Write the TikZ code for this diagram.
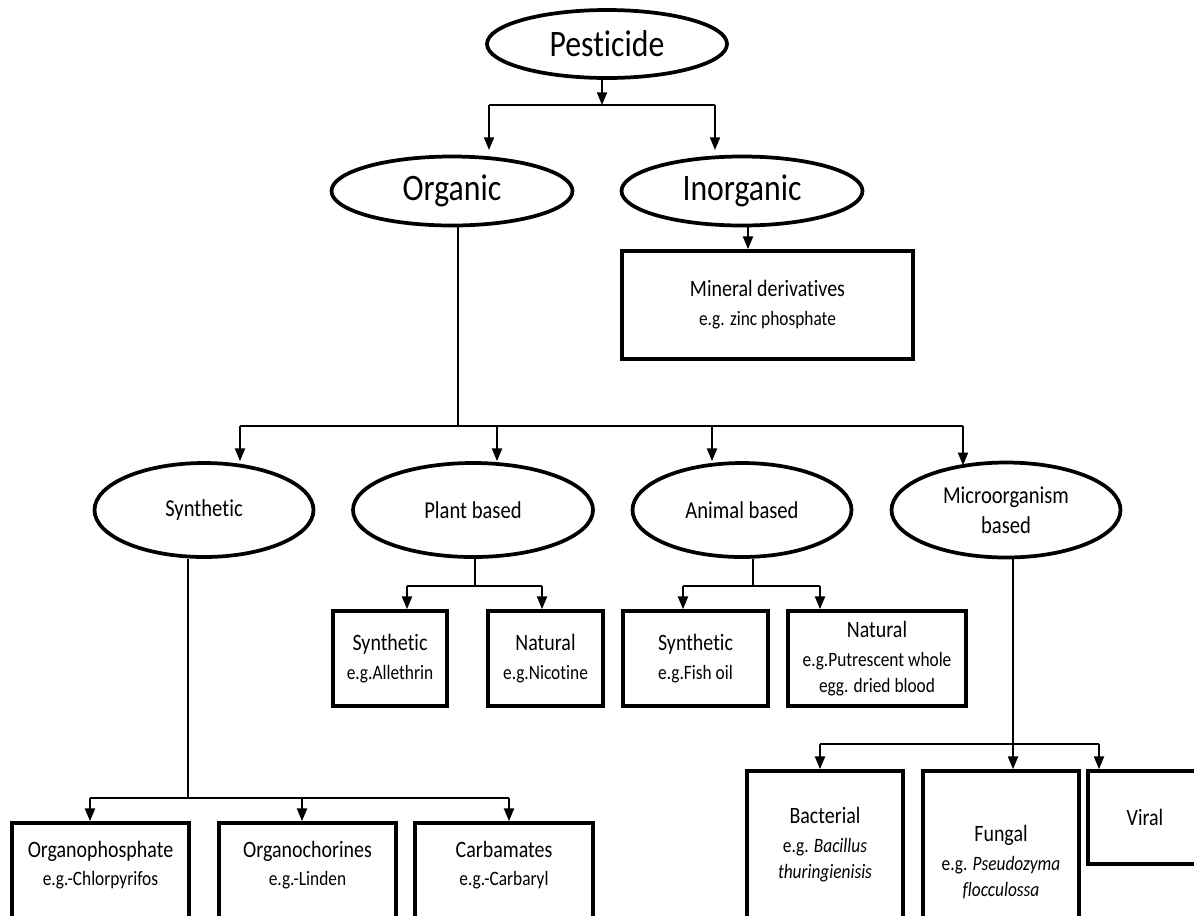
\documentclass[tikz,border=0pt]{standalone}
\usepackage{fontspec}
\setmainfont[FakeStretch=0.85,Ligatures=NoCommon]{Carlito}
\usetikzlibrary{shapes.geometric,arrows.meta,positioning,calc}

\newcommand{\ttl}[1]{{\fontsize{17.6}{20}\selectfont #1}}

\tikzset{
	oval/.style={draw, ellipse, line width=2.8pt, inner sep=0pt, align=center},
	bigoval/.style={oval, font=\fontsize{28}{31}\selectfont},
	suboval/.style={oval, font=\fontsize{18.2}{22.5}\selectfont},
	sbox/.style={draw, rectangle, line width=2.8pt, inner sep=0pt, align=center, font=\fontsize{15.3}{19.5}\selectfont},
	sz/.style 2 args={minimum width=#1*0.75pt, minimum height=#2*0.75pt},
	eg/.style={align=center, font=\fontsize{15.3}{19.5}\selectfont},
	link/.style={line width=1.4pt},
	arr/.style={link, -{Triangle[width=7.5pt,length=9.5pt]}},
}

\begin{document}
\begin{tikzpicture}[x=0.75pt, y=-0.75pt]
			%\draw[help lines] (0,0) grid[step=50] (1194,915);
			\useasboundingbox (0,0) rectangle (1194,915);
			\clip (0,0) rectangle (1194,915);

			\node[bigoval, sz={240}{68}] (pest)  at (607,44)  {Pesticide};
			\node[bigoval, sz={241}{69}] (org)   at (452,191) {Organic};
			\node[bigoval, sz={241}{69}] (inorg) at (742,191) {Inorganic};
			\node[sbox, sz={291}{108}] (mineral) at (767.5,305) {\ttl{Mineral derivatives}\\[2.25pt] e.g. zinc phosphate};

			\node[suboval, sz={219}{94}] (syn)    at (204,510)  {Synthetic};
			\node[suboval, sz={240}{94}] (plant)  at (473,510)  {Plant based};
			\node[suboval, sz={219}{94}] (animal) at (742,510)  {Animal based};
			\node[suboval, sz={229}{95}] (micro)  at (1006,510) {Microorganism\\based};

			\node[sbox, sz={114}{95}] (psyn) at (390,658.5)   {\ttl{Synthetic}\\[2.25pt] e.g.Allethrin};
			\node[sbox, sz={115}{95}] (pnat) at (545.5,658.5) {\ttl{Natural}\\[2.25pt] e.g.Nicotine};
			\node[sbox, sz={145}{95}] (asyn) at (695.5,658.5) {\ttl{Synthetic}\\[2.25pt] e.g.Fish oil};
			\node[sbox, sz={178}{95}] (anat) at (877,658.5)   {\ttl{Natural}\\[2.25pt] e.g.Putrescent whole\\ egg. dried blood};

			% bottom boxes run past the lower edge
			\node[sbox, sz={177}{150}] (opho) at (100.5,898) {};
			\node[sbox, sz={177}{150}] (ochl) at (307.5,898) {};
			\node[sbox, sz={178}{150}] (carb) at (504,898)   {};
			\node[eg] (opho-t) at (100.5,865) {\ttl{Organophosphate}\\[1pt] e.g.-Chlorpyrifos};
			\node[eg] (ochl-t) at (307.5,865) {\ttl{Organochorines}\\[1pt] e.g.-Linden};
			\node[eg] (carb-t) at (504,865)   {\ttl{Carbamates}\\[1pt] e.g.-Carbaryl};

			\node[sbox, sz={156}{170}] (bact)  at (825,856)    {};
			\node[sbox, sz={156}{170}] (fung)  at (1001,856)   {};
			\node[sbox, sz={114}{93}]  (viral) at (1145,817.5) {\ttl{Viral}};
			\node[eg] (bact-t) at (825,845)  {\ttl{Bacterial}\\[2.25pt] e.g. \textit{Bacillus}\\ \textit{thuringienisis}};
			\node[eg] (fung-t) at (1001,862) {\ttl{Fungal}\\[2.25pt] e.g. \textit{Pseudozyma}\\ \textit{flocculossa}};

			% junctions and bus lines
			\coordinate (j0)  at (602,105);
			\coordinate (b1w) at (489,105);
			\coordinate (b1e) at (715,105);
			\coordinate (j1)  at (458,426);
			\coordinate (j2)  at (748,240);
			\coordinate (b2w) at (240,426);
			\coordinate (b2p) at (497,426);
			\coordinate (b2a) at (712,426);
			\coordinate (b2e) at (963,426);
			\coordinate (j3)  at (188,798);
			\coordinate (b3w) at (90,798);
			\coordinate (b3m) at (302,798);
			\coordinate (b3e) at (509,798);
			\coordinate (jp)  at (475,586);
			\coordinate (bpw) at (407,586);
			\coordinate (bpe) at (542,586);
			\coordinate (ja)  at (753,586);
			\coordinate (baw) at (683,586);
			\coordinate (bae) at (820,586);
			\coordinate (jm)  at (1013,744);
			\coordinate (bmw) at (820,744);
			\coordinate (bme) at (1099,744);

			\draw[arr] (pest.south -| j0) -- (j0);
			\draw[link] (b1w) -- (b1e);
			\draw[arr, shorten >=3.5pt] (b1w) -- (b1w |- org.north);
			\draw[arr, shorten >=3.5pt] (b1e) -- (b1e |- inorg.north);

			\draw[arr] (inorg.south -| j2) -- (mineral.north -| j2);

			\draw[link] (org.south -| j1) -- (j1);
			\draw[link] (b2w) -- (b2e);
			\draw[arr] (b2w) -- (b2w |- syn.north);
			\draw[arr] (b2p) -- (b2p |- plant.north);
			\draw[arr] (b2a) -- (b2a |- animal.north);
			\draw[arr, shorten >=-3.5pt] (b2e) -- (b2e |- micro.north);

			\draw[link] (syn.south -| j3) -- (j3);
			\draw[link] (b3w) -- (b3e);
			\draw[arr] (b3w) -- (b3w |- opho.north);
			\draw[arr] (b3m) -- (b3m |- ochl.north);
			\draw[arr] (b3e) -- (b3e |- carb.north);

			\draw[link] (plant.south -| jp) -- (jp);
			\draw[link] (bpw) -- (bpe);
			\draw[arr] (bpw) -- (bpw |- psyn.north);
			\draw[arr] (bpe) -- (bpe |- pnat.north);

			\draw[link] (animal.south -| ja) -- (ja);
			\draw[link] (baw) -- (bae);
			\draw[arr] (baw) -- (baw |- asyn.north);
			\draw[arr] (bae) -- (bae |- anat.north);

			\draw[arr] (micro.south -| jm) -- (jm |- fung.north);
			\draw[link] (bmw) -- (bme);
			\draw[arr] (bmw) -- (bmw |- bact.north);
			\draw[arr] (bme) -- (bme |- viral.north);
\end{tikzpicture}
\end{document}
